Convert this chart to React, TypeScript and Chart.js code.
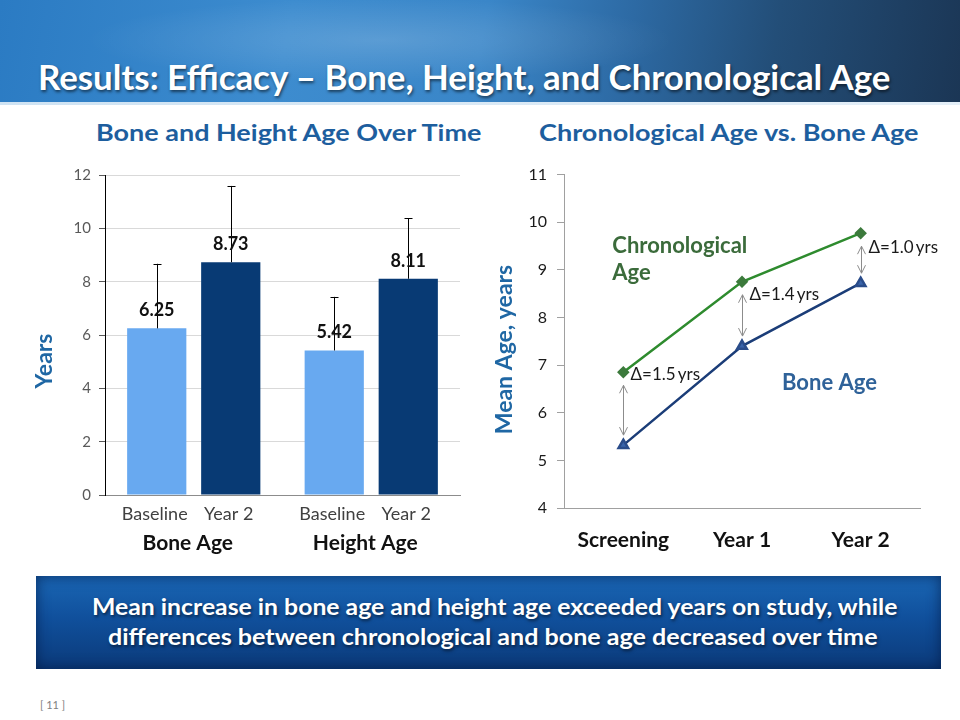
import React, { useEffect, useLayoutEffect, useRef } from "react";
import { Chart, registerables } from "chart.js";

Chart.register(...registerables);

// ---------- Data ----------
const barGroups = ["Bone Age", "Height Age"];
const barSeries = ["Baseline", "Year 2"];
const baselineValues = [6.25, 5.42];
const year2Values = [8.73, 8.11];
const baselineErr = [2.42, 2.01];
const year2Err = [2.86, 2.26];
const barYMin = 0;
const barYMax = 12;
const barYStep = 2;
const barYTitle = "Years";

const lineCategories = ["Screening", "Year 1", "Year 2"];
const chronoAge = [6.85, 8.75, 9.77];
const boneAge = [5.32, 7.4, 8.72];
const deltaLabels = ["\u0394=1.5\u2009yrs", "\u0394=1.4\u2009yrs", "\u0394=1.0\u2009yrs"];
const lineYMin = 4;
const lineYMax = 11;
const lineYStep = 1;
const lineYTitle = "Mean Age, years";

const FONT = "Lato, 'Open Sans', sans-serif";

function drawVTitle(ctx: any, text: string, cx: number, cy: number, size: number) {
  ctx.save();
  ctx.translate(cx, cy);
  ctx.rotate(-Math.PI / 2);
  ctx.fillStyle = "#1f67a4";
  ctx.font = `bold ${size}px ${FONT}`;
  ctx.textAlign = "center";
  ctx.textBaseline = "middle";
  ctx.fillText(text, 0, 0);
  ctx.restore();
}

// ---------- Plugins ----------
const barExtras = {
  id: "barExtras",
  afterDatasetsDraw(chart: any) {
    const ctx = chart.ctx;
    const ys = chart.scales.y;
    const xs = chart.scales.x;
    const area = chart.chartArea;
    const errs = [baselineErr, year2Err];
    chart.data.datasets.forEach((ds: any, di: number) => {
      const meta = chart.getDatasetMeta(di);
      meta.data.forEach((bar: any, i: number) => {
        const v = ds.data[i] as number;
        const top = ys.getPixelForValue(v + errs[di][i]);
        const bx = Math.round(bar.x) + 0.5;
        ctx.save();
        ctx.strokeStyle = "#000";
        ctx.lineWidth = 1;
        ctx.beginPath();
        ctx.moveTo(bx, bar.y);
        ctx.lineTo(bx, top);
        ctx.moveTo(bx - 4, Math.round(top) + 0.5);
        ctx.lineTo(bx + 4, Math.round(top) + 0.5);
        ctx.stroke();
        ctx.fillStyle = "#111";
        ctx.font = `bold 18px ${FONT}`;
        ctx.textAlign = "center";
        ctx.textBaseline = "middle";
        ctx.fillText(v.toFixed(2), bar.x, bar.y - 18);
        ctx.fillStyle = "#404040";
        ctx.font = `18px ${FONT}`;
        ctx.fillText(ds.label, bar.x - 2, area.bottom + 19);
        ctx.restore();
      });
    });
    ctx.save();
    ctx.fillStyle = "#111";
    ctx.font = `bold 21px ${FONT}`;
    ctx.textAlign = "center";
    ctx.textBaseline = "middle";
    chart.data.labels.forEach((l: string, i: number) => {
      ctx.fillText(l, xs.getPixelForValue(i) - 6, area.bottom + 48);
    });
    ctx.restore();
    drawVTitle(ctx, barYTitle, 25, 203, 23);
  },
};

const lineExtras = {
  id: "lineExtras",
  afterDatasetsDraw(chart: any) {
    const ctx = chart.ctx;
    const xs = chart.scales.x;
    const ys = chart.scales.y;
    const labelDy = [2, 13, 14];
    ctx.save();
    lineCategories.forEach((_c, i) => {
      const x = Math.round(xs.getPixelForValue(i)) + 0.5;
      const yTop = ys.getPixelForValue(chronoAge[i]) + 13;
      const yBot = ys.getPixelForValue(boneAge[i]) - 10;
      ctx.strokeStyle = "#8c8c8c";
      ctx.lineWidth = 1;
      ctx.beginPath();
      ctx.moveTo(x, yTop);
      ctx.lineTo(x, yBot);
      ctx.moveTo(x - 4, yTop + 8);
      ctx.lineTo(x, yTop);
      ctx.lineTo(x + 4, yTop + 8);
      ctx.moveTo(x - 4, yBot - 8);
      ctx.lineTo(x, yBot);
      ctx.lineTo(x + 4, yBot - 8);
      ctx.stroke();
      ctx.fillStyle = "#1a1a1a";
      ctx.font = `17px ${FONT}`;
      ctx.textAlign = "left";
      ctx.textBaseline = "middle";
      ctx.fillText(deltaLabels[i], x + 7, ys.getPixelForValue(chronoAge[i]) + labelDy[i]);
    });
    const x0 = xs.getPixelForValue(0);
    const x1 = xs.getPixelForValue(1);
    ctx.font = `bold 22px ${FONT}`;
    ctx.fillStyle = "#3b6b3b";
    ctx.fillText("Chronological", x0 - 11, ys.getPixelForValue(9.51));
    ctx.fillText("Age", x0 - 11, ys.getPixelForValue(8.94));
    ctx.fillStyle = "#2f6299";
    ctx.fillText("Bone Age", x1 + 40, ys.getPixelForValue(6.63));
    ctx.restore();
    drawVTitle(ctx, lineYTitle, 14.5, 194.5, 23);
  },
};

// ---------- Components ----------
function FitText(props: {
  text: string;
  left: number;
  cy: number;
  width: number;
  style?: React.CSSProperties;
}) {
  const ref = useRef<HTMLSpanElement>(null);
  useLayoutEffect(() => {
    const el = ref.current;
    if (!el) return;
    el.style.transform = "translateY(-50%)";
    const w = el.offsetWidth;
    el.style.transform = `translateY(-50%) scaleX(${props.width / w})`;
  }, [props.text, props.width]);
  return (
    <span
      ref={ref}
      style={{
        position: "absolute",
        left: props.left,
        top: props.cy,
        whiteSpace: "nowrap",
        transformOrigin: "left center",
        lineHeight: 1,
        display: "inline-block",
        ...props.style,
      }}
    >
      {props.text}
    </span>
  );
}

function BarChart() {
  const ref = useRef<HTMLCanvasElement>(null);
  useEffect(() => {
    const chart = new Chart(ref.current as HTMLCanvasElement, {
      type: "bar",
      data: {
        labels: barGroups,
        datasets: [
          {
            label: barSeries[0],
            data: baselineValues,
            backgroundColor: "#68a9f0",
            categoryPercentage: 0.834,
            barPercentage: 0.8,
          },
          {
            label: barSeries[1],
            data: year2Values,
            backgroundColor: "#083a74",
            categoryPercentage: 0.834,
            barPercentage: 0.8,
          },
        ],
      },
      options: {
        animation: false,
        responsive: false,
        devicePixelRatio: 1,
        layout: { padding: { top: 8, right: 10, left: 0, bottom: 0 } },
        plugins: { legend: { display: false }, tooltip: { enabled: false } },
        scales: {
          x: {
            grid: { display: false },
            border: { display: true, color: "#8c8c8c" },
            ticks: { display: false },
            afterFit: (s: any) => {
              s.height = 70;
            },
          },
          y: {
            min: barYMin,
            max: barYMax,
            ticks: {
              stepSize: barYStep,
              color: "#595959",
              font: { family: FONT, size: 15 },
              padding: 8,
            },
            grid: { color: "#d9d9d9", tickColor: "#595959", tickLength: 6 },
            border: { color: "#000" },
            afterFit: (s: any) => {
              s.width = 85;
            },
          },
        },
      } as any,
      plugins: [barExtras],
    });
    return () => chart.destroy();
  }, []);
  return (
    <canvas
      ref={ref}
      width={450}
      height={407}
      style={{ position: "absolute", left: 20, top: 158, width: 450, height: 407 }}
    />
  );
}

function LineChart() {
  const ref = useRef<HTMLCanvasElement>(null);
  useEffect(() => {
    const chart = new Chart(ref.current as HTMLCanvasElement, {
      type: "line",
      data: {
        labels: lineCategories,
        datasets: [
          {
            label: "Chronological Age",
            data: chronoAge,
            borderColor: "#2e8b2e",
            borderWidth: 2.5,
            pointStyle: "rectRot",
            pointRadius: 4.5,
            pointBackgroundColor: "#3c7a3c",
            pointBorderColor: "#3c7a3c",
            tension: 0,
          },
          {
            label: "Bone Age",
            data: boneAge,
            borderColor: "#1b3d78",
            borderWidth: 2.5,
            pointStyle: "triangle",
            pointRadius: 5.5,
            pointBackgroundColor: "#3a64aa",
            pointBorderColor: "#2a4c8a",
            tension: 0,
          },
        ],
      },
      options: {
        animation: false,
        responsive: false,
        devicePixelRatio: 1,
        layout: { padding: { top: 15, right: 20, left: 0, bottom: 0 } },
        plugins: { legend: { display: false }, tooltip: { enabled: false } },
        scales: {
          x: {
            offset: true,
            grid: { display: true, drawOnChartArea: false, drawTicks: false },
            border: { color: "#a0a0a0" },
            ticks: {
              color: "#111",
              font: { family: FONT, size: 21, weight: "bold" },
              padding: 20,
            },
            afterFit: (s: any) => {
              s.height = 52;
            },
          },
          y: {
            min: lineYMin,
            max: lineYMax,
            ticks: {
              stepSize: lineYStep,
              color: "#1a1a1a",
              font: { family: FONT, size: 16 },
              padding: 10,
            },
            grid: {
              display: true,
              drawOnChartArea: false,
              tickLength: 7,
              tickColor: "#a0a0a0",
            },
            border: { color: "#a0a0a0" },
            afterFit: (s: any) => {
              s.width = 74;
            },
          },
        },
      } as any,
      plugins: [lineExtras],
    });
    return () => chart.destroy();
  }, []);
  return (
    <canvas
      ref={ref}
      width={450}
      height={405}
      style={{ position: "absolute", left: 490, top: 155, width: 450, height: 405 }}
    />
  );
}

export default function App() {
  const white: React.CSSProperties = {
    color: "#fff",
    fontWeight: 700,
    textShadow: "1px 2px 3px rgba(0,0,0,0.55)",
  };
  return (
    <div
      style={{
        position: "fixed",
        left: 0,
        top: 0,
        width: 960,
        height: 720,
        background: "#fff",
        overflow: "hidden",
        fontFamily: FONT,
      }}
    >
      {/* header */}
      <div
        style={{
          position: "absolute",
          left: 0,
          top: 0,
          width: 960,
          height: 102,
          background:
            "radial-gradient(ellipse 420px 60px at 380px 40px, rgba(255,255,255,0.16), rgba(255,255,255,0) 70%), linear-gradient(100deg, #2b7bc3 0%, #3d8ccf 30%, #3a86c8 50%, #2d6aa4 65%, #234e78 80%, #1b3655 100%)",
        }}
      />
      <div
        style={{
          position: "absolute",
          left: 0,
          top: 102,
          width: 960,
          height: 3,
          background: "linear-gradient(90deg, #cfe3f3, #e4eff8)",
        }}
      />
      <FitText
        text="Results: Efficacy – Bone, Height, and Chronological Age"
        left={38}
        cy={77}
        width={852}
        style={{ ...white, fontSize: 34 }}
      />

      {/* sub titles */}
      <FitText
        text="Bone and Height Age Over Time"
        left={96}
        cy={133}
        width={385}
        style={{ color: "#1d5e9e", fontWeight: 700, fontSize: 22 }}
      />
      <FitText
        text="Chronological Age vs. Bone Age"
        left={539}
        cy={133}
        width={380}
        style={{ color: "#1d5e9e", fontWeight: 700, fontSize: 22 }}
      />

      <BarChart />
      <LineChart />

      {/* bottom banner */}
      <div
        style={{
          position: "absolute",
          left: 36,
          top: 576,
          width: 905,
          height: 93,
          background: "linear-gradient(180deg, #1a66b4 0%, #10509c 45%, #0b3a7a 100%)",
          boxShadow: "inset 0 0 14px rgba(0,20,60,0.65)",
        }}
      />
      <FitText
        text="Mean increase in bone age and height age exceeded years on study, while"
        left={92}
        cy={607}
        width={805}
        style={{ ...white, fontSize: 22 }}
      />
      <FitText
        text="differences between chronological and bone age decreased over time"
        left={108}
        cy={637}
        width={769}
        style={{ ...white, fontSize: 22 }}
      />
      <span
        style={{
          position: "absolute",
          left: 40,
          top: 698,
          fontSize: 11,
          color: "#808080",
          whiteSpace: "nowrap",
        }}
      >
        [ 11 ]
      </span>
    </div>
  );
}
